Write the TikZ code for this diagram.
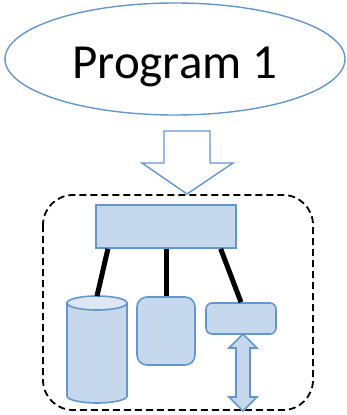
\documentclass[tikz,border=0pt]{standalone}
\usepackage{fontspec}
\setmainfont{Carlito}
\usetikzlibrary{shapes.geometric,calc}
\definecolor{bstroke}{RGB}{100,150,205}
\definecolor{bfill}{RGB}{197,216,236}
\definecolor{bfilltop}{RGB}{221,230,242}
\tikzset{
  bshape/.style={draw=bstroke, line width=1.6pt, fill=bfill},
  link/.style={line width=5pt, black},
}
\begin{document}
\begin{tikzpicture}[x=1pt,y=-1pt]
\useasboundingbox (0,0) rectangle (346,415);
% ellipse with title
\node[ellipse, draw=bstroke, line width=1.4pt, minimum width=340pt, minimum height=112pt, inner sep=0pt] (prog) at (175,59) {};
\node[font=\fontsize{49}{58}\selectfont, anchor=base, inner sep=0pt] (title) at (175,78) {Program 1};
% hollow arrow
\draw[draw=bstroke, line width=1.4pt, fill=white] (164,131) -- (210,131) -- (210,163) -- (233,163) -- (187,194) -- (142,163) -- (164,163) -- cycle;
% dashed container
\draw[black, line width=1.8pt, dash pattern=on 7pt off 4pt, rounded corners=30pt] (43,195) rectangle (313,410);
% top box
\node[bshape, rectangle, minimum width=140pt, minimum height=43pt, inner sep=0pt] (topbox) at (166,226.5) {};
% cylinder
\path[bshape] (127,303) -- (127,396) arc[start angle=0, end angle=-180, x radius=30pt, y radius=7pt] -- (67,303) -- cycle;
\draw[draw=bstroke, line width=1.6pt, fill=bfilltop] (97,303) ellipse[x radius=30pt, y radius=7pt];
\coordinate (cyltop) at (97,296);
% middle rounded box
\node[bshape, rectangle, rounded corners=10pt, minimum width=58pt, minimum height=68pt, inner sep=0pt] (midbox) at (166,331) {};
% right small rounded box
\node[bshape, rectangle, rounded corners=6pt, minimum width=70pt, minimum height=31pt, inner sep=0pt] (smallbox) at (241,318.5) {};
% double arrow
\draw[bshape] (243,334) -- (257,348) -- (250,348) -- (250,397) -- (257,397) -- (243,411) -- (229,397) -- (236,397) -- (236,348) -- (229,348) -- cycle;
% links
\draw[link] ($(topbox.south west)!0.09!(topbox.south east)$) -- (cyltop);
\draw[link] (topbox.south) -- (midbox.north);
\draw[link] ($(topbox.south west)!0.886!(topbox.south east)$) -- ($(smallbox.north west)!0.5!(smallbox.north east)$);
\end{tikzpicture}
\end{document}
